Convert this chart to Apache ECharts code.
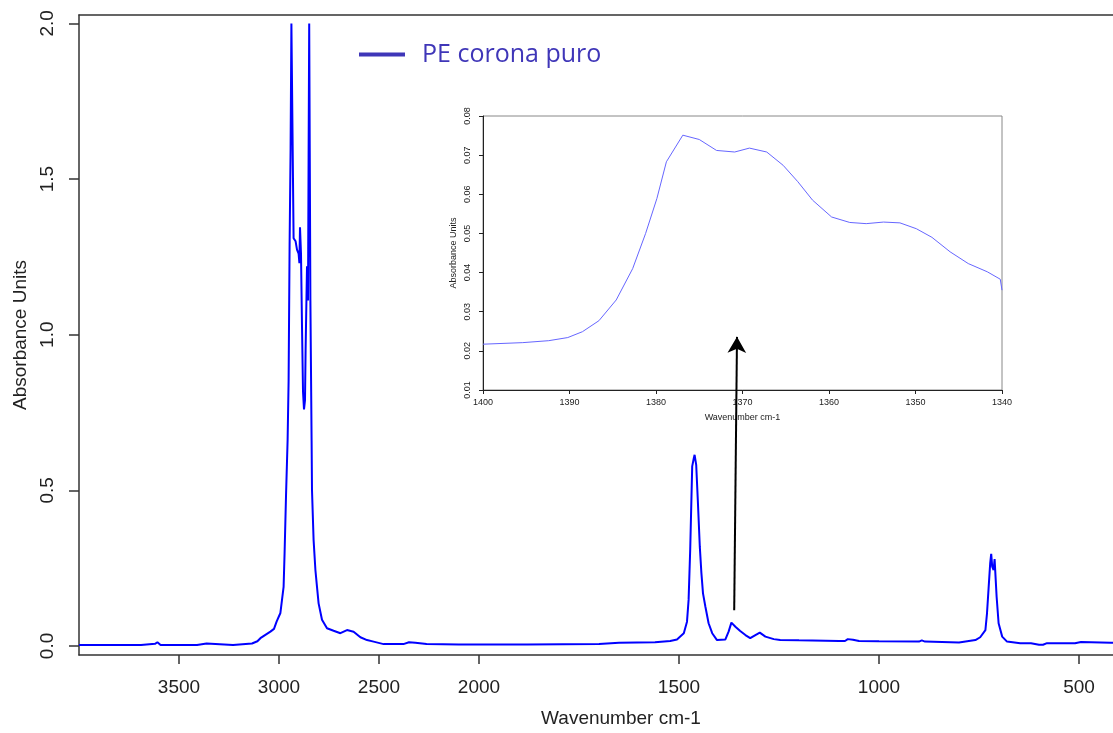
<!DOCTYPE html>
<html>
<head>
    <meta charset="utf-8">
    <title>PE corona puro</title>
    <script type="text/javascript" src="https://cdn.jsdelivr.net/npm/echarts@6/dist/echarts.min.js"></script>
</head>
<body style="margin:0; background:#fff;">
	<div id="main" style="height:733px; width:1113px;"></div>
	<script type="text/javascript">
	// main spectrum, wavenumber (cm-1) and absorbance
	var mainWn = [4000, 3950, 3910, 3906, 3902, 3875, 3872, 3868, 3780, 3690, 3686, 3620, 3608, 3600, 3592,
		3500, 3410, 3405, 3362, 3355, 3230, 3226, 3135, 3120, 3108, 3093, 3070, 3043, 3025, 3012,
		2993, 2985, 2977, 2972, 2965, 2957, 2952, 2947, 2942, 2938, 2930, 2927, 2917, 2910, 2902,
		2898, 2895, 2890, 2885, 2880, 2875, 2870, 2867, 2860, 2855, 2852, 2849, 2846, 2843, 2837,
		2835, 2827, 2818, 2810, 2802, 2785, 2760, 2727, 2693, 2660, 2627, 2593, 2560, 2527, 2477,
		2378, 2350, 2343, 2318, 2262, 2100, 2020, 2012, 2005, 1890, 1885, 1880, 1700, 1650, 1560,
		1522, 1505, 1488, 1480, 1476, 1472, 1467, 1463, 1461, 1457, 1453, 1448, 1444, 1440, 1434,
		1426, 1417, 1405, 1384, 1376, 1369, 1359, 1347, 1334, 1322, 1309, 1298, 1284, 1263, 1247,
		1200, 1100, 1085, 1078, 1065, 1050, 1000, 900, 893, 885, 800, 759, 747, 734, 730,
		726, 722, 719.5, 717, 713.5, 711, 708.5, 706, 701, 692, 680, 647, 620, 600, 590,
		580, 510, 505, 495, 490, 420, 300];
	var mainAbs = [0.003, 0.003, 0.003, 0.008, 0.003, 0.003, 0.008, 0.003, 0.003, 0.003, 0.006, 0.007, 0.012, 0.012, 0.003,
		0.003, 0.003, 0.008, 0.008, 0.003, 0.003, 0.008, 0.008, 0.012, 0.015, 0.025, 0.035, 0.046, 0.055, 0.078,
		0.106, 0.148, 0.19, 0.30, 0.48, 0.66, 0.85, 1.29, 1.6, 2.0, 2.0, 1.31, 1.30, 1.273, 1.26,
		1.23, 1.345, 1.26, 1.027, 0.818, 0.76, 0.79, 0.95, 1.22, 1.11, 1.57, 2.0, 2.0, 1.11, 0.66,
		0.50, 0.34, 0.244, 0.19, 0.137, 0.084, 0.057, 0.049, 0.041, 0.051, 0.046, 0.028, 0.019, 0.014, 0.006,
		0.006, 0.012, 0.016, 0.010, 0.006, 0.005, 0.005, 0.009, 0.005, 0.005, 0.008, 0.005, 0.006, 0.010, 0.012,
		0.016, 0.021, 0.041, 0.078, 0.148, 0.309, 0.577, 0.603, 0.614, 0.582, 0.469, 0.319, 0.234, 0.169, 0.126,
		0.073, 0.041, 0.019, 0.021, 0.046, 0.075, 0.062, 0.048, 0.035, 0.025, 0.035, 0.043, 0.030, 0.022, 0.019,
		0.018, 0.016, 0.016, 0.022, 0.020, 0.016, 0.015, 0.014, 0.018, 0.014, 0.011, 0.019, 0.028, 0.051, 0.105,
		0.186, 0.266, 0.296, 0.255, 0.244, 0.279, 0.277, 0.159, 0.073, 0.030, 0.014, 0.009, 0.009, 0.004, 0.004,
		0.009, 0.009, 0.013, 0.013, 0.009, 0.010, 0.010];

	// inset: 1400-1340 cm-1 zoom
	var insetWn = [1400, 1395.4, 1392.4, 1390.2, 1388.5, 1386.6, 1384.6, 1382.7, 1381.2, 1379.9, 1378.8, 1376.9, 1375.0, 1373.0, 1370.9,
		1369.2, 1367.2, 1365.3, 1363.6, 1361.9, 1359.7, 1357.6, 1355.7, 1353.7, 1351.8, 1349.9, 1348.1, 1346.0, 1343.9, 1341.7,
		1340.2, 1340];
	var insetAbs = [0.0217, 0.0221, 0.0226, 0.0234, 0.0249, 0.0277, 0.0330, 0.0410, 0.0500, 0.0589, 0.0683, 0.0751, 0.0740, 0.0712, 0.0708,
		0.0718, 0.0708, 0.0674, 0.0632, 0.0585, 0.0542, 0.0528, 0.0525, 0.0529, 0.0527, 0.0512, 0.0490, 0.0453, 0.0423, 0.0402,
		0.0383, 0.0355];

	var mainXTicks = [3500, 3000, 2500, 2000, 1500, 1000, 500];
	var mainYTicks = [0, 0.5, 1.0, 1.5, 2.0];
	var arrowFrom = [1362, 0.115];
	var arrowTo = [1355, 0.993];

	// x axis is compressed by half above 2000 cm-1
	function toU(w) { return w > 2000 ? 2000 + (w - 2000) / 2 : w; }
	function fromU(u) { return u > 2000 ? 2000 + (u - 2000) * 2 : u; }

	var mainData = mainWn.map(function (w, i) { return [toU(w), mainAbs[i]]; });
	var insetData = insetWn.map(function (w, i) { return [w, insetAbs[i]]; });

	var font = 'Liberation Sans, Arial, sans-serif';
	var frame = {color: '#333', width: 1.5};
	var myChart = echarts.init(document.getElementById('main'));
	var option = {
		animation: false,
		backgroundColor: '#fff',
		legend: {
			left: 354, top: 37,
			icon: 'rect', itemWidth: 46, itemHeight: 4,
			data: [{name: 'PE corona puro', itemStyle: {color: '#3f36b8'}}],
			textStyle: {fontFamily: 'Open Sans', fontSize: 25, color: '#3f36b8', padding: [0, 0, 0, 12]}
		},
		grid: [
			{left: 79, top: 15, right: 0, height: 640},
			{left: 483, top: 116, width: 519, height: 274, show: true, borderColor: '#888', borderWidth: 1, backgroundColor: '#fff'}
		],
		xAxis: [
			{
				gridIndex: 0, type: 'value', inverse: true, min: 415, max: 3000,
				splitLine: {show: false},
				axisLine: {show: true, onZero: false, lineStyle: frame},
				axisTick: {show: true, length: 9, inside: false, customValues: mainXTicks.map(toU), lineStyle: frame},
				axisLabel: {customValues: mainXTicks.map(toU), margin: 23, fontFamily: font, fontSize: 19, color: '#222',
					formatter: function (v) { return String(Math.round(fromU(v))); }},
				name: 'Wavenumber cm-1', nameLocation: 'middle', nameGap: 54,
				nameTextStyle: {fontFamily: font, fontSize: 19, color: '#222', padding: [0, 0, 0, 50]}
			},
			{
				gridIndex: 1, type: 'value', inverse: true, min: 1340, max: 1400, interval: 10,
				splitLine: {show: false},
				axisLine: {show: true, onZero: false, lineStyle: {color: '#222', width: 1}},
				axisTick: {show: true, length: 4, lineStyle: {color: '#222'}},
				axisLabel: {margin: 8, fontFamily: font, fontSize: 9, color: '#222',
					formatter: function (v) { return String(v); }},
				name: 'Wavenumber cm-1', nameLocation: 'middle', nameGap: 23,
				nameTextStyle: {fontFamily: font, fontSize: 9, color: '#222'}
			},
			{
				// top frame line of the main plot
				gridIndex: 0, type: 'value', inverse: true, min: 415, max: 3000, position: 'top',
				splitLine: {show: false}, axisTick: {show: false}, axisLabel: {show: false},
				axisLine: {show: true, onZero: false, lineStyle: frame}
			}
		],
		yAxis: [
			{
				gridIndex: 0, type: 'value', min: -0.029, max: 2.027,
				splitLine: {show: false},
				axisLine: {show: true, onZero: false, lineStyle: frame},
				axisTick: {show: true, length: 10, customValues: mainYTicks, lineStyle: frame},
				axisLabel: {customValues: mainYTicks, rotate: 90, margin: 22, fontFamily: font, fontSize: 19, color: '#222',
					formatter: function (v) { return v.toFixed(1); }},
				name: 'Absorbance Units', nameLocation: 'middle', nameGap: 48,
				nameTextStyle: {fontFamily: font, fontSize: 19, color: '#222'}
			},
			{
				gridIndex: 1, type: 'value', min: 0.01, max: 0.08, interval: 0.01,
				splitLine: {show: false},
				axisLine: {show: true, onZero: false, lineStyle: {color: '#222', width: 1}},
				axisTick: {show: true, length: 4, lineStyle: {color: '#222'}},
				axisLabel: {rotate: 90, margin: 11, fontFamily: font, fontSize: 9, color: '#222',
					formatter: function (v) { return v.toFixed(2); }},
				name: 'Absorbance Units', nameLocation: 'middle', nameGap: 25,
				nameTextStyle: {fontFamily: font, fontSize: 9, color: '#222'}
			}
		],
		series: [
			{
				name: 'PE corona puro', type: 'line', xAxisIndex: 0, yAxisIndex: 0,
				data: mainData, showSymbol: false, clip: true, z: 2,
				lineStyle: {color: '#0000ff', width: 2},
				itemStyle: {color: '#0000ff'}
			},
			{
				name: 'inset', type: 'line', xAxisIndex: 1, yAxisIndex: 1,
				data: insetData, showSymbol: false, clip: true, z: 3,
				lineStyle: {color: '#6666ff', width: 1}
			},
			{
				// arrow from the small band up to the inset
				name: 'arrow', type: 'line', xAxisIndex: 0, yAxisIndex: 0, data: [], z: 10,
				markLine: {
					silent: true, symbol: ['none', 'arrow'], symbolSize: [14, 16],
					label: {show: false},
					lineStyle: {color: '#000', width: 2, type: 'solid'},
					data: [[{coord: [toU(arrowFrom[0]), arrowFrom[1]]}, {coord: [toU(arrowTo[0]), arrowTo[1]]}]]
				}
			}
		]
	};
	myChart.setOption(option);
	</script>
</body>
</html>
